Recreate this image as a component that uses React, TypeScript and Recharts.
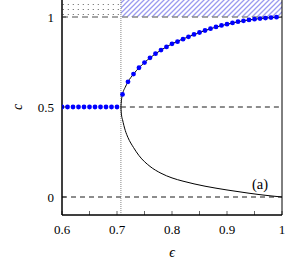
import {
  ComposedChart,
  Line,
  XAxis,
  YAxis,
  ReferenceArea,
  ReferenceLine,
  ReferenceDot,
} from "recharts";

const FONT = "'Liberation Serif', 'DejaVu Serif', serif";

// critical point, where c = 0.5 splits into two branches
const epsCritical = 0.7071;

// blue markers, c = 0.5 below the critical point
const epsFlat = [0.6, 0.61, 0.62, 0.63, 0.64, 0.65, 0.66, 0.67, 0.68, 0.69, 0.7];
const cFlat = [0.5, 0.5, 0.5, 0.5, 0.5, 0.5, 0.5, 0.5, 0.5, 0.5, 0.5];

// blue markers on the upper branch
const epsUpper = [
  0.71, 0.72, 0.73, 0.74, 0.75, 0.76, 0.77, 0.78, 0.79, 0.8, 0.81, 0.82, 0.83,
  0.84, 0.85, 0.86, 0.87, 0.88, 0.89, 0.9, 0.91, 0.92, 0.93, 0.94, 0.95, 0.96,
  0.97, 0.98, 0.99,
];
const cUpper = [
  0.57, 0.64, 0.683, 0.718, 0.747, 0.773, 0.796, 0.816, 0.834, 0.851, 0.863,
  0.877, 0.89, 0.903, 0.914, 0.925, 0.935, 0.945, 0.953, 0.96, 0.967, 0.974,
  0.979, 0.984, 0.988, 0.991, 0.994, 0.997, 0.999,
];

// black solid curves (both branches)
const epsCurveUpper = [
  0.7071, 0.708, 0.71, 0.715, 0.72, 0.73, 0.74, 0.76, 0.78, 0.8, 0.83, 0.86,
  0.9, 0.94, 0.97, 1.0,
];
const cCurveUpper = [
  0.5, 0.535, 0.57, 0.61, 0.64, 0.683, 0.718, 0.773, 0.816, 0.851, 0.89, 0.925,
  0.96, 0.984, 0.994, 1.0,
];
const epsCurveLower = [
  0.7071, 0.708, 0.71, 0.715, 0.72, 0.73, 0.74, 0.76, 0.78, 0.8, 0.82, 0.84,
  0.86, 0.88, 0.9, 0.92, 0.94, 0.96, 0.98, 1.0,
];
const cCurveLower = [
  0.5, 0.46, 0.43, 0.37, 0.33, 0.275, 0.23, 0.17, 0.132, 0.106, 0.088, 0.073,
  0.06, 0.049, 0.039, 0.03, 0.021, 0.013, 0.006, 0,
];

const xMajorTicks = [0.6, 0.7, 0.8, 0.9, 1];
const xMinorTicks = [0.65, 0.75, 0.85, 0.95];
const yTicks = [0, 0.5, 1];

const zip = (xs: number[], ys: number[]) => xs.map((x, i) => ({ x, y: ys[i] }));

const flatData = zip(epsFlat, cFlat);
const upperData = zip(epsUpper, cUpper);
const curveUpperData = zip(epsCurveUpper, cCurveUpper);
const curveLowerData = zip(epsCurveLower, cCurveLower);

function XTick(props: any) {
  const { x, y, payload } = props;
  const major = xMajorTicks.some((t) => Math.abs(t - payload.value) < 1e-6);
  return (
    <g>
      <line x1={x} y1={y} x2={x} y2={y - 4} stroke="#000" strokeWidth={0.6} />
      {major && (
        <text
          x={x}
          y={y + 19}
          textAnchor="middle"
          fontFamily={FONT}
          fontSize={13}
          fill="#000"
        >
          {String(payload.value)}
        </text>
      )}
    </g>
  );
}

function YTick(props: any) {
  const { x, y, payload } = props;
  return (
    <g>
      <line x1={x} y1={y} x2={x + 4} y2={y} stroke="#000" strokeWidth={0.6} />
      <text
        x={x - 8}
        y={y + 4.5}
        textAnchor="end"
        fontFamily={FONT}
        fontSize={13}
        fill="#000"
      >
        {String(payload.value)}
      </text>
    </g>
  );
}

// panel tag drawn at the dot position
function PanelTag(props: any) {
  const { cx, cy } = props;
  return (
    <text
      x={cx}
      y={cy + 5}
      textAnchor="middle"
      fontFamily={FONT}
      fontSize={14.5}
      fill="#000"
    >
      (a)
    </text>
  );
}

export default function App() {
  return (
    <div style={{ position: "absolute", left: 0, top: -1 }}>
      <ComposedChart
        width={293}
        height={261}
        margin={{ top: 0, right: 11, left: 0, bottom: 0 }}
      >
        <defs>
          <pattern
            id="dotsPat"
            patternUnits="userSpaceOnUse"
            width={5}
            height={5}
            x={0}
            y={0}
          >
            <circle cx={3.3} cy={0} r={0.75} fill="#333" />
          </pattern>
          <pattern
            id="hatchPat"
            patternUnits="userSpaceOnUse"
            width={5}
            height={5}
          >
            <path
              d="M-1,1 L1,-1 M0,5 L5,0 M4,6 L6,4"
              stroke="#9a9af0"
              strokeWidth={1.3}
            />
          </pattern>
        </defs>
        <XAxis
          dataKey="x"
          type="number"
          domain={[0.6, 1]}
          ticks={[...xMajorTicks, ...xMinorTicks].sort((a, b) => a - b)}
          interval={0}
          allowDataOverflow
          height={45}
          tickLine={false}
          tickSize={0}
          tickMargin={0}
          tick={<XTick />}
          axisLine={{ stroke: "#000" }}
          label={{
            content: ({ viewBox }: any) => (
              <text
                x={viewBox.x + viewBox.width / 2}
                y={viewBox.y + 42}
                textAnchor="middle"
                fontFamily={FONT}
                fontStyle="italic"
                fontSize={14}
                fill="#000"
              >
                ϵ
              </text>
            ),
          }}
        />
        <YAxis
          type="number"
          domain={[-0.1, 1.1]}
          ticks={yTicks}
          interval={0}
          allowDataOverflow
          width={62}
          tickLine={false}
          tickSize={0}
          tickMargin={0}
          tick={<YTick />}
          axisLine={{ stroke: "#000" }}
          label={{
            content: ({ viewBox }: any) => (
              <text
                x={17}
                y={viewBox.y + viewBox.height / 2}
                textAnchor="middle"
                dominantBaseline="central"
                transform={`rotate(-90 17 ${viewBox.y + viewBox.height / 2})`}
                fontFamily={FONT}
                fontStyle="italic"
                fontSize={14}
                fill="#000"
              >
                c
              </text>
            ),
          }}
        />
        <ReferenceArea
          x1={0.6}
          x2={epsCritical}
          y1={1}
          y2={1.1}
          fill="url(#dotsPat)"
          fillOpacity={1}
          stroke="none"
        />
        <ReferenceArea
          x1={epsCritical}
          x2={1}
          y1={1}
          y2={1.1}
          fill="url(#hatchPat)"
          fillOpacity={1}
          stroke="none"
        />
        <ReferenceLine y={1} stroke="#888" strokeWidth={1.4} strokeDasharray="6 4" />
        <ReferenceLine y={0} stroke="#000" strokeWidth={0.9} strokeDasharray="5 4" />
        <ReferenceLine
          segment={[
            { x: epsCritical, y: 0.5 },
            { x: 1, y: 0.5 },
          ]}
          stroke="#000"
          strokeWidth={0.9}
          strokeDasharray="5 4"
        />
        <ReferenceLine
          x={epsCritical}
          stroke="#666"
          strokeWidth={0.8}
          strokeDasharray="1 1"
        />
        <ReferenceArea
          x1={0.6}
          x2={1}
          y1={-0.1}
          y2={1.1}
          fill="none"
          stroke="#000"
          strokeWidth={1}
        />
        <Line
          data={curveLowerData}
          dataKey="y"
          type="monotone"
          stroke="#000"
          strokeWidth={1}
          dot={false}
          isAnimationActive={false}
        />
        <Line
          data={curveUpperData}
          dataKey="y"
          type="monotone"
          stroke="#000"
          strokeWidth={1}
          dot={false}
          isAnimationActive={false}
        />
        <Line
          data={flatData}
          dataKey="y"
          stroke="none"
          dot={{ r: 2.4, fill: "#0000ff", stroke: "none" }}
          isAnimationActive={false}
        />
        <Line
          data={upperData}
          dataKey="y"
          stroke="none"
          dot={{ r: 2.4, fill: "#0000ff", stroke: "none" }}
          isAnimationActive={false}
        />
        <ReferenceDot x={0.96} y={0.075} r={0} shape={<PanelTag />} />
      </ComposedChart>
    </div>
  );
}
